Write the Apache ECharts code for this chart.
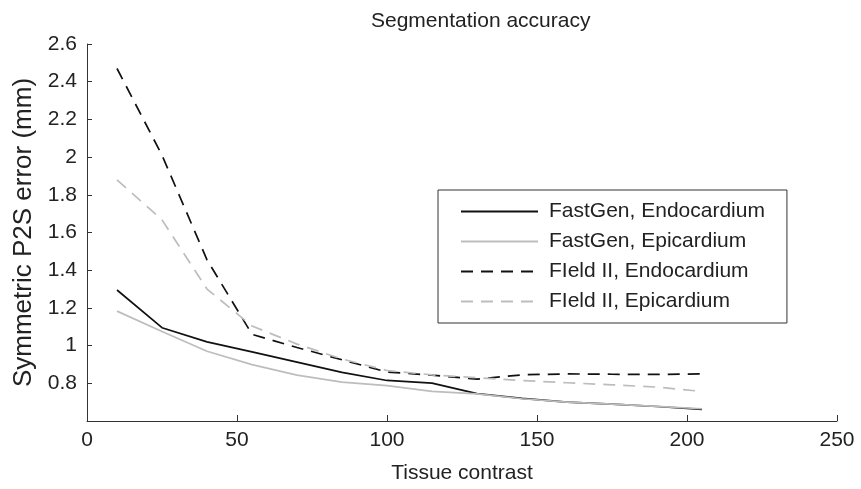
<!DOCTYPE html>
<html>
<head>
<meta charset="utf-8">
<script src="https://cdn.jsdelivr.net/npm/echarts@6/dist/echarts.min.js"></script>
<style>html,body{margin:0;padding:0;background:#fff}#c{width:861px;height:489px}</style>
</head>
<body>
<div id="c"></div>
<script>
const titleText = 'Segmentation accuracy';
const xName = 'Tissue contrast';
const yName = 'Symmetric P2S error (mm)';
const contrast = [10, 25, 40, 55, 70, 85, 100, 115, 130, 145, 160, 175, 190, 205];
const fastGenEndo = [1.295, 1.095, 1.02, 0.967, 0.912, 0.858, 0.815, 0.801, 0.745, 0.72, 0.70, 0.69, 0.677, 0.662];
const fastGenEpi = [1.183, 1.075, 0.97, 0.899, 0.843, 0.806, 0.788, 0.757, 0.744, 0.718, 0.70, 0.69, 0.678, 0.665];
const fieldEndo = [2.47, 2.01, 1.455, 1.06, 0.99, 0.925, 0.86, 0.843, 0.822, 0.845, 0.85, 0.848, 0.847, 0.85];
const fieldEpi = [1.879, 1.667, 1.30, 1.104, 1.008, 0.929, 0.868, 0.845, 0.83, 0.815, 0.803, 0.792, 0.78, 0.757];
const seriesNames = ['FastGen, Endocardium', 'FastGen, Epicardium', 'FIeld II, Endocardium', 'FIeld II, Epicardium'];

const pair = (ys) => contrast.map((x, i) => [x, ys[i]]);
const font = 'Liberation Sans, Arial, Helvetica, sans-serif';
const txt = '#222';
const axisCol = '#333';

const chart = echarts.init(document.getElementById('c'), null, {renderer: 'canvas'});
const mk = (name, data, color, dashed) => ({
  name, type: 'line', data, symbol: 'none', smooth: false, animation: false,
  lineStyle: {color, width: 1.7, type: dashed ? [12, 8] : 'solid'},
  itemStyle: {color}
});
chart.setOption({
  animation: false,
  backgroundColor: '#fff',
  title: {
    text: titleText, left: 366, top: 6,
    textStyle: {fontFamily: font, fontSize: 21, fontWeight: 'normal', color: txt}
  },
  grid: {left: 87, right: 24, top: 44, bottom: 62, containLabel: false},
  legend: {
    orient: 'vertical', left: 438, top: 190,
    padding: [11, 22, 11, 22],
    itemWidth: 77, itemHeight: 21, itemGap: 9,
    borderColor: '#333', borderWidth: 1,
    backgroundColor: '#fff',
    itemStyle: {opacity: 0, color: 'rgba(0,0,0,0)', borderWidth: 0},
    textStyle: {fontFamily: font, fontSize: 21, color: txt, padding: [0, 0, 0, 6]},
    data: seriesNames
  },
  xAxis: {
    type: 'value', min: 0, max: 250, interval: 50,
    name: xName, nameLocation: 'middle', nameGap: 42,
    nameTextStyle: {fontFamily: font, fontSize: 21, color: txt},
    axisLine: {show: true, onZero: false, lineStyle: {color: axisCol, width: 1}},
    axisTick: {show: true, inside: true, length: 6, lineStyle: {color: axisCol}},
    axisLabel: {fontFamily: font, fontSize: 21, color: txt, margin: 9},
    splitLine: {show: false}
  },
  yAxis: {
    type: 'value', min: 0.6, max: 2.6, interval: 0.2,
    name: yName, nameLocation: 'middle', nameGap: 50, nameRotate: 90,
    nameTextStyle: {fontFamily: font, fontSize: 26, color: txt},
    axisLine: {show: true, onZero: false, lineStyle: {color: axisCol, width: 1}},
    axisTick: {show: true, inside: true, length: 5, lineStyle: {color: axisCol}},
    axisLabel: {
      fontFamily: font, fontSize: 21, color: txt, margin: 10,
      formatter: (v) => Math.abs(v - 0.6) < 1e-6 ? '' : String(Math.round(v * 10) / 10)
    },
    splitLine: {show: false}
  },
  series: [
    mk(seriesNames[0], pair(fastGenEndo), '#111', false),
    mk(seriesNames[1], pair(fastGenEpi), '#bdbdbd', false),
    mk(seriesNames[2], pair(fieldEndo), '#111', true),
    mk(seriesNames[3], pair(fieldEpi), '#bdbdbd', true)
  ]
});
</script>
</body>
</html>
